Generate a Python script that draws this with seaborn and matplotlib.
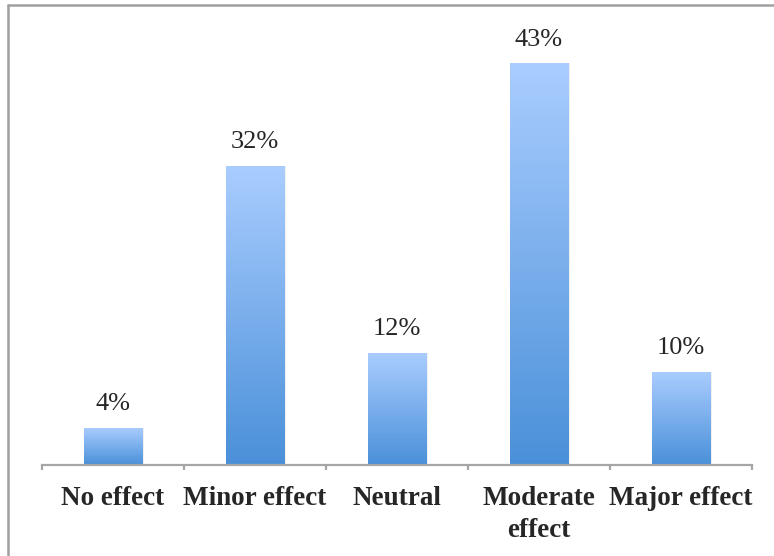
import numpy as np
import matplotlib
matplotlib.use("Agg")
import matplotlib.pyplot as plt
import seaborn as sns
from matplotlib.colors import LinearSegmentedColormap
from matplotlib.lines import Line2D

categories = ["No effect", "Minor effect", "Neutral", "Moderate\neffect", "Major effect"]
percent = [4, 32, 12, 43, 10]
labels = ["4%", "32%", "12%", "43%", "10%"]

sns.set_style("white")
plt.rcParams["font.family"] = ["Liberation Serif", "DejaVu Serif"]

W, H = 774, 556
fig = plt.figure(figsize=(W / 100, H / 100), dpi=100)
# axes box in pixel coords: left 42, right 752, bottom 465, top 30
ax = fig.add_axes([42 / W, (H - 465) / H, 710 / W, 435 / H])

sns.barplot(x=categories, y=percent, color="#5b9bd5", width=0.41, ax=ax)
ax.set_ylim(0, 435 / 9.35)
ax.set_xlim(-0.5, len(categories) - 0.5)

# vertical gradient fill per bar (light top, darker bottom)
grad = LinearSegmentedColormap.from_list("g", ["#4a90d9", "#aacdff"])
gimg = np.linspace(0, 1, 256).reshape(-1, 1)
for p in ax.patches:
    x0, y0 = p.get_x(), p.get_y()
    w, h = p.get_width(), p.get_height()
    p.set_facecolor("none")
    p.set_edgecolor("none")
    im = ax.imshow(gimg, cmap=grad, aspect="auto", origin="lower",
                   extent=[x0, x0 + w, y0, y0 + h], zorder=2)
    im.set_clip_path(p)
    # faint shadow
    ax.add_patch(plt.Rectangle((x0 + 0.01, y0), w, h, facecolor="#000000",
                               alpha=0.06, edgecolor="none", zorder=1.5))

for i, (v, t) in enumerate(zip(percent, labels)):
    ax.text(i, v + 2.5, t, ha="center", va="center", fontsize=19)

for s in ["top", "right", "left"]:
    ax.spines[s].set_visible(False)
ax.spines["bottom"].set_color("#a6a6a6")
ax.spines["bottom"].set_linewidth(1.6)
ax.set_yticks([])
ax.set_xticks(np.arange(len(categories)))
ax.set_xticklabels(categories, fontsize=19.5, fontweight="bold", va="top",
                   linespacing=1.4)
ax.tick_params(axis="x", length=0, pad=15)
# category boundary ticks
for b in np.arange(-0.5, len(categories), 1.0):
    ax.plot([b, b], [0, -0.55], color="#a6a6a6", lw=1.6, clip_on=False,
            solid_capstyle="butt")
ax.set_xlabel("")
ax.set_ylabel("")

# partial frame (left and top)
fig.add_artist(Line2D([7.5 / W, 7.5 / W], [0, 1 - 5 / H], color="#a0a0a0", lw=1.8,
                      transform=fig.transFigure))
fig.add_artist(Line2D([7.5 / W, 1], [1 - 5 / H, 1 - 5 / H], color="#a0a0a0", lw=1.8,
                      transform=fig.transFigure))

fig.savefig("out.png", dpi=100)
